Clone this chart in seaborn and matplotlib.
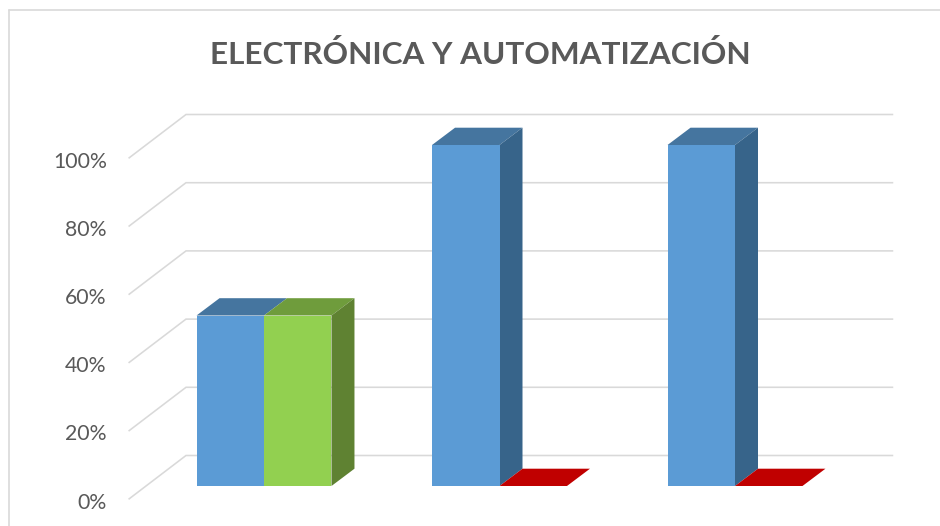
import matplotlib
matplotlib.use("Agg")
import matplotlib.pyplot as plt
import pandas as pd
import seaborn as sns
from matplotlib.lines import Line2D
from matplotlib.patches import Polygon
from matplotlib.transforms import Affine2D, ScaledTranslation

title = "ELECTRÓNICA Y AUTOMATIZACIÓN"
categories = ["Grupo 1", "Grupo 2", "Grupo 3"]
series_names = ["Serie 1", "Serie 2"]
serie_1 = [50, 100, 100]
serie_2 = [50, 0, 0]
tick_values = [0, 20, 40, 60, 80, 100]
tick_labels = ["0%", "20%", "40%", "60%", "80%", "100%"]

front_colors = [["#5B9BD5", "#5B9BD5", "#5B9BD5"], ["#92D050", "#C00000", "#C00000"]]
top_colors = [["#45759F", "#45759F", "#45759F"], ["#6F9C3C", "#C00000", "#C00000"]]
side_colors = [["#37648A", "#37648A", "#37648A"], ["#5F8232", "#C00000", "#C00000"]]
GRID = "#D9D9D9"
TEXT = "#595959"

W, H = 940, 526
sns.set_theme(style="white")
plt.rcParams["font.family"] = ["Lato", "DejaVu Sans"]

fig = plt.figure(figsize=(W / 100, H / 100), dpi=100, facecolor="white")
left, right, top, bottom = 146.25, 852.75, 145.0, 486.0
ax = fig.add_axes([left / W, 1 - bottom / H, (right - left) / W, (bottom - top) / H])

df = pd.DataFrame({
    "categoria": categories * 2,
    "serie": [series_names[0]] * 3 + [series_names[1]] * 3,
    "valor": serie_1 + serie_2,
})
sns.barplot(data=df, x="categoria", y="valor", hue="serie", order=categories,
            hue_order=series_names, width=0.573, gap=0, saturation=1, legend=False,
            palette=["#5B9BD5", "#92D050"], linewidth=0, ax=ax, zorder=4)
ax.set_xlim(-0.5, 2.5)
ax.set_ylim(0, 100)
ax.set_xlabel("")
ax.set_ylabel("")
ax.set_xticks([])
sns.despine(ax=ax, left=True, bottom=True, right=True, top=True)
ax.patch.set_alpha(0)

ux = (right - left) / 3
uy = (bottom - top) / 100
dx, dy = 23 / ux, 17.3 / uy

# 3D faces derived from the bars themselves
for s, container in enumerate(ax.containers):
    for i, bar in enumerate(container.patches):
        bar.set_facecolor(front_colors[s][i])
        x0, w, h = bar.get_x(), bar.get_width(), bar.get_height()
        ax.add_patch(Polygon([(x0, h), (x0 + w, h), (x0 + w + dx, h + dy), (x0 + dx, h + dy)],
                             closed=True, fc=top_colors[s][i], ec="none", zorder=3, clip_on=False))
        hidden = s == 0 and serie_2[i] >= h
        if h > 0 and not hidden:
            ax.add_patch(Polygon([(x0 + w, 0), (x0 + w + dx, dy), (x0 + w + dx, h + dy), (x0 + w, h)],
                                 closed=True, fc=side_colors[s][i], ec="none", zorder=3, clip_on=False))

# gridlines on the back wall and floor-side wall
fx, fy = -17.7 / ux, -13.3 / uy
bx, by = 39.75 / ux, 30.5 / uy
x_end = 2.5 + 40.5 / ux
for v in tick_values:
    ax.plot([-0.5 + fx, -0.5 + bx, x_end], [v + fy, v + by, v + by], color=GRID, lw=1.15,
            zorder=1, clip_on=False, solid_capstyle="butt", solid_joinstyle="miter")

ax.set_yticks(tick_values)
ax.set_yticklabels(tick_labels)
ax.tick_params(axis="y", length=0, pad=28.5, labelsize=15.3, labelcolor=TEXT)
shift = ScaledTranslation(0, -14.7 / 100, fig.dpi_scale_trans)
for lab in ax.get_yticklabels():
    lab.set_transform(lab.get_transform() + shift)

fig.text(480.5 / W, 1 - 55 / H, title, ha="center", va="center", fontsize=22.65,
         fontweight="bold", color=TEXT)

px = Affine2D().scale(1 / W, -1 / H).translate(0, 1)
for xs, ys in (([9, 9], [526, 9.5]), ([9, 940], [9.5, 9.5])):
    fig.add_artist(Line2D(xs, ys, transform=px + fig.transFigure, color=GRID, lw=1.2))

fig.savefig("out.png", dpi=100, facecolor="white")
